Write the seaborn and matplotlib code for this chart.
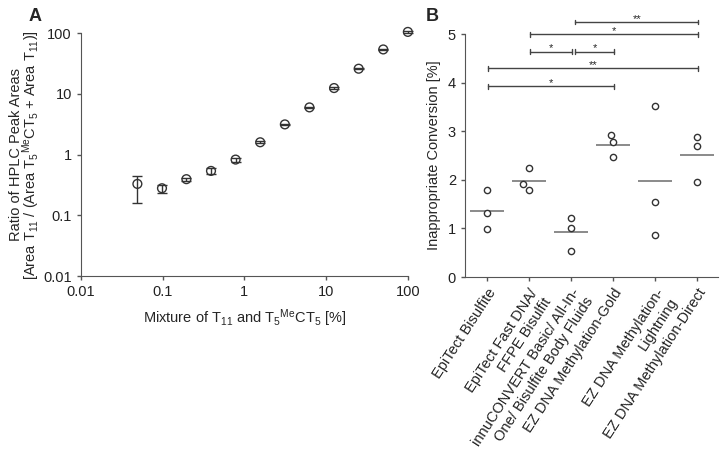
import numpy as np
import pandas as pd
import matplotlib
matplotlib.use("Agg")
import matplotlib.pyplot as plt
import seaborn as sns

## panel A data (dilution series, HPLC peak area ratio)
mixture = [0.049, 0.098, 0.195, 0.39, 0.78, 1.56, 3.125, 6.25, 12.5, 25, 50, 100]
ratio = [0.33, 0.28, 0.395, 0.54, 0.83, 1.6, 3.15, 6.0, 12.5, 26, 54, 105]
ratio_lo = [0.16, 0.235, 0.37, 0.48, 0.77, 1.55, 3.05, 5.8, 12.2, 25.3, 52.5, 102]
ratio_hi = [0.45, 0.32, 0.41, 0.60, 0.88, 1.65, 3.25, 6.2, 12.8, 26.7, 55.5, 108]

## panel B data (three replicates per kit)
kits = ["EpiTect Bisulfite",
        "EpiTect Fast DNA/\nFFPE Bisulfit",
        "innuCONVERT Basic/ All-In-\nOne/ Bisulfite Body Fluids",
        "EZ DNA Methylation-Gold",
        "EZ DNA Methylation-\nLightning",
        "EZ DNA Methylation-Direct"]
rep1 = [1.79, 2.24, 1.22, 2.92, 3.52, 2.88]
rep2 = [1.31, 1.80, 1.00, 2.77, 1.55, 2.70]
rep3 = [0.99, 1.91, 0.54, 2.48, 0.86, 1.96]

## significance brackets (kit index from/to, height, label)
sig_from = [0, 0, 1, 2, 1, 2]
sig_to = [3, 5, 2, 3, 5, 5]
sig_y = [3.93, 4.30, 4.64, 4.64, 5.0, 5.25]
sig_text = ["*", "**", "*", "*", "*", "**"]

sns.set_style("ticks")
plt.rcParams['font.family'] = ['Liberation Sans', 'DejaVu Sans']
plt.rcParams['mathtext.default'] = 'regular'
plt.rcParams['axes.edgecolor'] = '#555555'
plt.rcParams['xtick.color'] = '#555555'
plt.rcParams['ytick.color'] = '#555555'
plt.rcParams['xtick.labelcolor'] = '#222222'
plt.rcParams['ytick.labelcolor'] = '#222222'

fig = plt.figure(figsize=(7.27, 4.61), dpi=100)
axA = fig.add_axes([0.1114, 0.401, 0.4496, 0.527])
axB = fig.add_axes([0.6396, 0.399, 0.348, 0.527])

## ---------- A ----------
dfA = pd.DataFrame({"mix": mixture, "ratio": ratio})
yerr = [np.array(ratio) - np.array(ratio_lo), np.array(ratio_hi) - np.array(ratio)]
axA.errorbar(mixture, ratio, yerr=yerr, fmt='none', ecolor='#333333',
             elinewidth=1, capsize=3.5, capthick=1, zorder=2, clip_on=False)
sns.scatterplot(data=dfA, x="mix", y="ratio", ax=axA, marker='o', s=40,
                facecolor='none', edgecolor='#333333', linewidth=1, zorder=3,
                clip_on=False)
axA.set_xscale('log')
axA.set_yscale('log')
axA.set_xlim(0.01, 100)
axA.set_ylim(0.01, 100)
ticks = [0.01, 0.1, 1, 10, 100]
axA.set_xticks(ticks)
axA.set_xticklabels(["0.01", "0.1", "1", "10", "100"])
axA.set_yticks(ticks)
axA.set_yticklabels(["0.01", "0.1", "1", "10", "100"])
axA.minorticks_off()
axA.tick_params(labelsize=10.5, length=3, width=1, direction='out')
axA.set_xlabel(r"Mixture of T$_{11}$ and T$_5$$^{Me}$CT$_5$ [%]", fontsize=10.5, labelpad=6)
axA.set_ylabel("Ratio of HPLC Peak Areas\n"
               r"[Area T$_{11}$ / (Area T$_5$$^{Me}$CT$_5$ + Area T$_{11}$)]",
               fontsize=10.5, labelpad=1, linespacing=0.85)
sns.despine(ax=axA)

## ---------- B ----------
dfB = pd.DataFrame({"kit": np.repeat(kits, 3),
                    "conv": np.column_stack([rep1, rep2, rep3]).ravel()})
sns.swarmplot(data=dfB, x="kit", y="conv", ax=axB, order=kits, size=4.5,
              color='white', edgecolor='#333333', linewidth=1, zorder=3)
means = dfB.groupby("kit", sort=False)["conv"].mean()
pos = np.arange(len(kits))
axB.hlines(means.values, pos - 0.4, pos + 0.4, color='#777777', lw=1.2, zorder=2)

for a, b, y, t in zip(sig_from, sig_to, sig_y, sig_text):
    x0 = a + (0.1 if a == 2 else 0.03)
    x1 = b + 0.03
    axB.plot([x0, x1], [y, y], color='#444444', lw=1, clip_on=False)
    axB.plot([x0, x0], [y - 0.05, y + 0.05], color='#444444', lw=1, clip_on=False)
    axB.plot([x1, x1], [y - 0.05, y + 0.05], color='#444444', lw=1, clip_on=False)
    axB.text((x0 + x1) / 2, y - 0.04, t, ha='center', va='bottom', fontsize=8)

axB.set_xlim(-0.52, 5.5)
axB.set_ylim(0, 5)
axB.set_yticks([0, 1, 2, 3, 4, 5])
axB.set_xlabel("")
axB.set_ylabel("Inappropriate Conversion [%]", fontsize=10.5, labelpad=5)
axB.tick_params(labelsize=10.5, length=3, width=1, direction='out')
plt.setp(axB.get_xticklabels(), rotation=57, ha='right', va='top',
         rotation_mode='anchor', multialignment='right')
sns.despine(ax=axB)

fig.text(0.039, 0.965, "A", fontsize=13, fontweight='bold', va='center')
fig.text(0.585, 0.965, "B", fontsize=13, fontweight='bold', va='center')

fig.savefig("out.png", dpi=100)
